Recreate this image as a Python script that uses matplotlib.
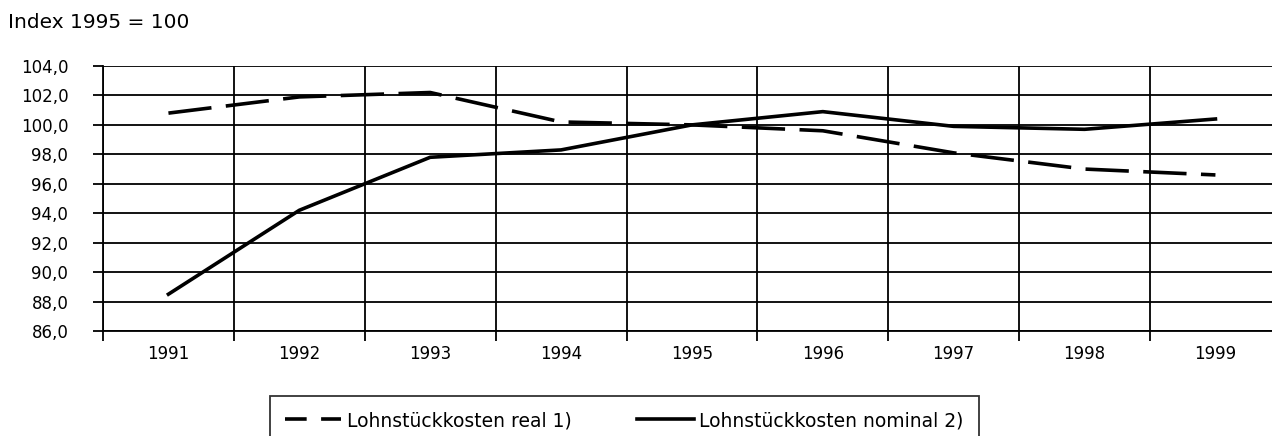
import numpy as np
import matplotlib
matplotlib.use("Agg")
import matplotlib.pyplot as plt
from matplotlib.lines import Line2D
from matplotlib.ticker import FixedLocator, NullFormatter

# Daten (Index 1995 = 100)
years = ["1991", "1992", "1993", "1994", "1995", "1996", "1997", "1998", "1999"]
real = [100.8, 101.9, 102.2, 100.2, 100.0, 99.6, 98.1, 97.0, 96.6]
nominal = [88.5, 94.2, 97.8, 98.3, 100.0, 100.9, 99.9, 99.7, 100.4]
yticks = [86, 88, 90, 92, 94, 96, 98, 100, 102, 104]
title = "Index 1995 = 100"
labels = ["Lohnstückkosten real 1)", "Lohnstückkosten nominal 2)"]

plt.rcParams['font.family'] = ['DejaVu Sans']

fig = plt.figure(figsize=(12.72, 4.36), dpi=100)
ax = fig.add_axes([103 / 1272, 1 - 331 / 436, 1 - 103 / 1272, (331 - 66) / 436])

x = np.arange(1, len(years) + 1)
l1, = ax.plot(x, real, color="black", lw=2.6, dashes=(12, 4), dash_capstyle="butt")
l2, = ax.plot(x, nominal, color="black", lw=2.6)

ax.set_ylim(86, 104)
ax.set_xlim(0.5, 0.5 + (1272 - 103) / ((1150 - 103) / 8))

# y-Achse
ax.set_yticks(yticks)
ax.set_yticklabels([f"{v},0" for v in yticks], fontsize=12)
# x-Achse: Striche zwischen den Kategorien, Beschriftung in der Mitte
ax.xaxis.set_major_locator(FixedLocator(np.arange(0.5, len(years) + 0.6, 1.0)))
ax.xaxis.set_major_formatter(NullFormatter())
ax.xaxis.set_minor_locator(FixedLocator(x))
ax.set_xticklabels(years, minor=True, fontsize=12)
ax.tick_params(axis="x", which="minor", length=0, pad=10)
ax.tick_params(axis="both", which="major", length=7, width=1.3, color="black")
ax.tick_params(axis="y", pad=18)

ax.grid(True, which="major", color="black", lw=1.3)
ax.set_axisbelow(True)
for s in ["top", "right"]:
    ax.spines[s].set_visible(False)
ax.spines["left"].set_linewidth(1.3)
ax.spines["bottom"].set_linewidth(1.3)

fig.text(8 / 1272, 1 - 22 / 436, title, fontsize=14.5, va="center", ha="left")

# Legende: gestrichelte Linie mit zwei Strichen wie im Original
h1 = Line2D([], [], color="black", lw=2.6, dashes=(6, 4), dash_capstyle="butt")
leg = fig.legend([h1, l2], labels, ncol=2, loc="upper left",
                 bbox_to_anchor=(270 / 1272, 1 - 396 / 436), borderaxespad=0,
                 fontsize=13.5, frameon=True, fancybox=False, edgecolor="black",
                 handlelength=3.0, columnspacing=3.5, borderpad=0.8, handletextpad=0.3)
leg.get_frame().set_linewidth(1.3)

fig.savefig("out.png", dpi=100)
